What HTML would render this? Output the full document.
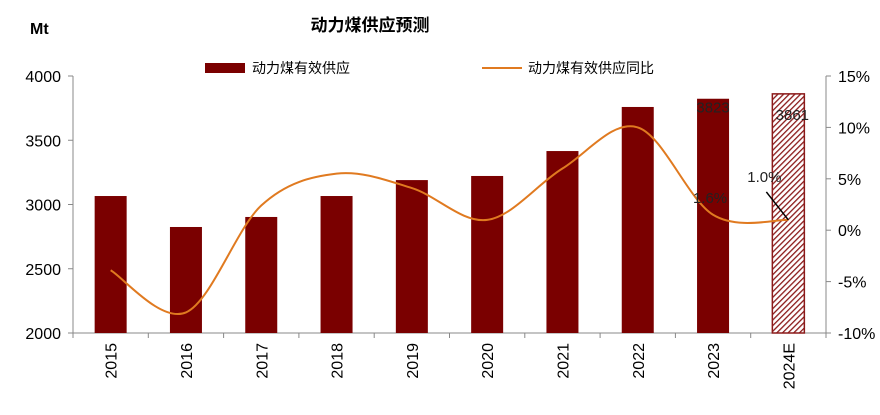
<!DOCTYPE html>
<html><head><meta charset="utf-8"><style>
body{margin:0;background:#fff;}
svg text{font-family:"Liberation Sans","Noto Sans CJK SC",sans-serif;}
</style></head><body>
<svg id="c" width="880" height="410" xmlns="http://www.w3.org/2000/svg">
<defs><pattern id="hatch" width="4" height="4" patternUnits="userSpaceOnUse" patternTransform="rotate(45)"><rect width="4" height="4" fill="#fff"/><rect width="1.3" height="4" fill="#8b1a1a"/></pattern></defs>
<text x="30" y="34" font-size="16" font-weight="bold" fill="#000">Mt</text>
<text x="370" y="31" font-size="17" font-weight="bold" text-anchor="middle">动力煤供应预测</text>
<g><rect x="205" y="63" width="40" height="10" fill="#7a0000"/><text x="252" y="73" font-size="14">动力煤有效供应</text></g>
<g><line x1="482" y1="68" x2="522" y2="68" stroke="#e07a20" stroke-width="2"/><text x="528" y="73" font-size="14">动力煤有效供应同比</text></g>
<g id="g"></g>
</svg>
<script>
const categories=["2015","2016","2017","2018","2019","2020","2021","2022","2023","2024E"];
const supply=[3066,2825,2903,3066,3190,3222,3416,3759,3823,3861];
const growth=[-3.9,-8.0,2.4,5.5,4.1,1.0,6.0,10.0,1.5,1.0];
const leftTicks=[2000,2500,3000,3500,4000];
const rightTicks=[-10,-5,0,5,10,15];
const ns="http://www.w3.org/2000/svg",g=document.getElementById('g');
const L=73,R=826,T=76,B=333;
const xs=i=>L+(R-L)/categories.length*(i+0.5);
const yl=v=>B-(v-2000)/2000*(B-T);
const yr=v=>B-(v+10)/25*(B-T);
function el(t,a,p){const e=document.createElementNS(ns,t);for(const k in a)e.setAttribute(k,a[k]);(p||g).appendChild(e);return e;}
let e;
e=el('line',{x1:L,y1:T,x2:L,y2:B,stroke:'#888'});


e=el('line',{x1:R,y1:T,x2:R,y2:B,stroke:'#888'});


e=el('line',{x1:L,y1:B,x2:R,y2:B,stroke:'#888'});


leftTicks.forEach(v=>{const y=yl(v);el('line',{x1:L-5,y1:y,x2:L,y2:y,stroke:'#888'});
e=el('text',{x:L-12,y:y+6,'font-size':16,'text-anchor':'end'});e.textContent=v;

});
rightTicks.forEach(v=>{const y=yr(v);el('line',{x1:R,y1:y,x2:R+5,y2:y,stroke:'#888'});
e=el('text',{x:R+12,y:y+6,'font-size':16});e.textContent=v+'%';

});
const step=(R-L)/categories.length;
for(let i=0;i<=categories.length;i++)el('line',{x1:L+step*i,y1:B,x2:L+step*i,y2:B+5,stroke:'#888'});
categories.forEach((c,i)=>{const x=xs(i),last=i===categories.length-1;
e=el('rect',{x:x-16,y:yl(supply[i]),width:32,height:B-yl(supply[i]),fill:last?'url(#hatch)':'#7a0000',stroke:last?'#8b1a1a':'none','stroke-width':1.5});


e=el('text',{transform:`translate(${x+6},${B+10}) rotate(-90)`,'font-size':16,'text-anchor':'end'});e.textContent=c;

});
const P=growth.map((v,i)=>[xs(i),yr(v)]);
let d=`M${P[0][0]},${P[0][1]}`;
for(let i=0;i<P.length-1;i++){const p0=P[i-1]||P[i],p1=P[i],p2=P[i+1],p3=P[i+2]||p2;
d+=` C${p1[0]+(p2[0]-p0[0])/6},${p1[1]+(p2[1]-p0[1])/6} ${p2[0]-(p3[0]-p1[0])/6},${p2[1]-(p3[1]-p1[1])/6} ${p2[0]},${p2[1]}`;}
e=el('path',{d:d,fill:'none',stroke:'#e07a20','stroke-width':2});


const n=categories.length;
e=el('text',{x:xs(n-2),y:yl(supply[n-2])+14,'font-size':15,'text-anchor':'middle',fill:'#222'});e.textContent=supply[n-2];


e=el('text',{x:xs(n-1)+4,y:yl(supply[n-1])+26,'font-size':15,'text-anchor':'middle',fill:'#222'});e.textContent=supply[n-1];


e=el('text',{x:xs(n-2)-3,y:yr(growth[n-2])-12,'font-size':15,'text-anchor':'middle',fill:'#222'});e.textContent=growth[n-2].toFixed(1).replace('1.5','1.6')+'%';


el('line',{x1:xs(n-1)-22,y1:yr(growth[n-1])-28,x2:xs(n-1),y2:yr(growth[n-1]),stroke:'#000','stroke-width':1.5});
e=el('text',{x:xs(n-1)-24,y:yr(growth[n-1])-38,'font-size':15,'text-anchor':'middle',fill:'#222'});e.textContent=growth[n-1].toFixed(1)+'%';


</script>
</body></html>
